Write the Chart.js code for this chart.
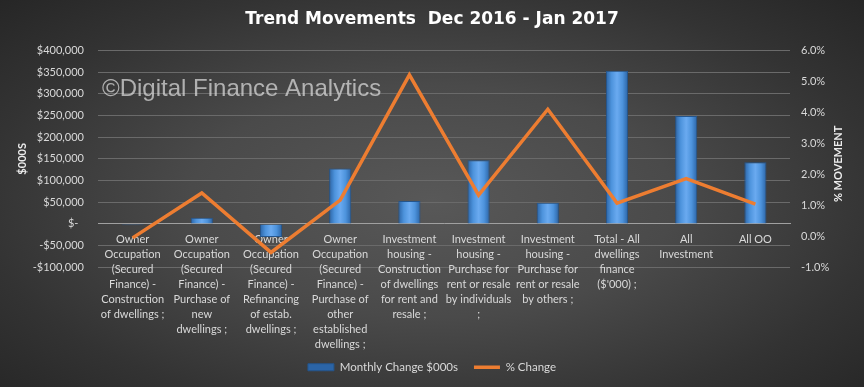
<!DOCTYPE html>
<html>
<head>
<meta charset="utf-8">
<script src="https://cdn.jsdelivr.net/npm/chart.js@4.4.0/dist/chart.umd.min.js"></script>
<style>
  html, body { margin: 0; padding: 0; }
  body {
    width: 864px; height: 387px; overflow: hidden;
    background: radial-gradient(ellipse 70% 75% at 50% 52%, #585858 0%, #4a4a4a 40%, #333 75%, #262626 100%);
  }
  canvas { display: block; }
</style>
</head>
<body>
<canvas id="myChart" width="864" height="387"></canvas>
<script>
// categories, wrapped the way the original axis shows them
const categories = [
  ["Owner", "Occupation", "(Secured", "Finance) -", "Construction", "of dwellings ;"],
  ["Owner", "Occupation", "(Secured", "Finance) -", "Purchase of", "new", "dwellings ;"],
  ["Owner", "Occupation", "(Secured", "Finance) -", "Refinancing", "of estab.", "dwellings ;"],
  ["Owner", "Occupation", "(Secured", "Finance) -", "Purchase of", "other", "established", "dwellings ;"],
  ["Investment", "housing -", "Construction", "of dwellings", "for rent and", "resale ;"],
  ["Investment", "housing -", "Purchase for", "rent or resale", "by individuals", ";"],
  ["Investment", "housing -", "Purchase for", "rent or resale", "by others ;"],
  ["Total - All", "dwellings", "finance", "($'000) ;"],
  ["All", "Investment"],
  ["All OO"]
];

// Monthly Change $000s (left axis)
const monthlyChange = [-3000, 14000, -30000, 128000, 53000, 147000, 49000, 353000, 249000, 142000];
// % Change (right axis)
const pctChange = [-0.05, 1.40, -0.52, 1.17, 5.21, 1.33, 4.10, 1.07, 1.86, 1.04];

const moneyRange = [-100000, 400000];
const moneyStep = 50000;
const pctRange = [-1, 6];
const pctStep = 1;

const textColor = '#d9d9d9';
const fontFamily = 'Lato, "Open Sans", sans-serif';

function moneyLabel(v) {
  if (v === 0) return '$-  ';
  const s = '$' + Math.abs(v).toLocaleString('en-US');
  return v < 0 ? '-' + s : s;
}

// blue bars, lighter down the middle
function barFill(ctx) {
  const chart = ctx.chart;
  if (!chart.chartArea || !chart.scales.x) return '#4a8fd8';
  const cx = chart.scales.x.getPixelForValue(ctx.dataIndex);
  const g = chart.ctx.createLinearGradient(cx - 11, 0, cx + 11, 0);
  g.addColorStop(0, '#2b64a6');
  g.addColorStop(0.25, '#4d93dc');
  g.addColorStop(0.5, '#6aaaf0');
  g.addColorStop(0.75, '#4d93dc');
  g.addColorStop(1, '#2b64a6');
  return g;
}

const extras = {
  id: 'extras',
  beforeDatasetsDraw(chart) {
    const c = chart.ctx;
    c.save();
    c.font = '24px "Liberation Sans", Arial, sans-serif';
    c.fillStyle = 'rgba(220,220,220,0.72)';
    c.textBaseline = 'middle';
    c.fillText('\u00A9Digital Finance Analytics', 102, 89);
    c.restore();
  },
  afterDraw(chart) {
    const c = chart.ctx;
    const a = chart.chartArea;
    c.save();
    c.translate(838, (a.top + a.bottom) / 2 + 5);
    c.rotate(-Math.PI / 2);
    c.font = 'bold 11px ' + fontFamily;
    c.fillStyle = '#ececec';
    c.textAlign = 'center';
    c.textBaseline = 'middle';
    c.fillText('% MOVEMENT', 0, 0);
    c.restore();
  }
};

new Chart(document.getElementById('myChart'), {
  data: {
    labels: categories,
    datasets: [
      {
        type: 'line',
        label: '% Change',
        data: pctChange,
        yAxisID: 'y1',
        borderColor: '#ED7D31',
        backgroundColor: '#ED7D31',
        borderWidth: 3.5,
        pointRadius: 0,
        pointStyle: 'line',
        tension: 0
      },
      {
        type: 'bar',
        label: 'Monthly Change $000s',
        data: monthlyChange,
        yAxisID: 'y',
        backgroundColor: barFill,
        borderColor: '#24558c',
        borderWidth: 1,
        barPercentage: 0.64,
        categoryPercentage: 0.5,
        pointStyle: 'rect'
      }
    ]
  },
  options: {
    responsive: false,
    animation: false,
    layout: { padding: { left: 0, right: 0, top: 0, bottom: 4 } },
    plugins: {
      tooltip: { enabled: false },
      title: {
        display: true,
        text: 'Trend Movements  Dec 2016 - Jan 2017',
        color: '#ffffff',
        font: { family: '"DejaVu Sans", sans-serif', size: 17, weight: 'bold' },
        padding: { top: 9, bottom: 21 }
      },
      legend: {
        position: 'bottom',
        title: { display: true, text: '', font: { size: 1 }, padding: { top: 77, bottom: 0 } },
        labels: {
          color: textColor,
          font: { family: fontFamily, size: 11.5 },
          usePointStyle: true,
          pointStyleWidth: 26,
          boxHeight: 7,
          padding: 16,
          sort: (a, b) => b.datasetIndex - a.datasetIndex
        }
      }
    },
    scales: {
      x: {
        position: { y: 0 },
        offset: true,
        grid: { display: false, drawTicks: false },
        border: { display: true, color: '#a0a0a0', width: 1 },
        ticks: {
          color: textColor,
          font: { family: fontFamily, size: 11, lineHeight: 1.36 },
          padding: 8,
          maxRotation: 0,
          autoSkip: false
        }
      },
      y: {
        position: 'left',
        min: moneyRange[0],
        max: moneyRange[1],
        afterFit(s) { s.width = 98; },
        grid: { color: '#6a6a6a', lineWidth: 1, drawTicks: false },
        border: { display: false },
        ticks: {
          stepSize: moneyStep,
          color: textColor,
          font: { family: fontFamily, size: 11 },
          padding: 14,
          callback: moneyLabel
        },
        title: {
          display: true,
          text: '$000S',
          color: '#ececec',
          font: { family: fontFamily, size: 11, weight: 'bold' },
          padding: { top: 16, bottom: 0 }
        }
      },
      y1: {
        position: 'right',
        min: pctRange[0],
        max: pctRange[1],
        afterFit(s) { s.width = 74; },
        grid: { display: false, drawTicks: false },
        border: { display: false },
        ticks: {
          stepSize: pctStep,
          color: textColor,
          font: { family: fontFamily, size: 11 },
          padding: 11,
          callback: v => v.toFixed(1) + '%'
        }
      }
    }
  },
  plugins: [extras]
});
</script>
</body>
</html>
